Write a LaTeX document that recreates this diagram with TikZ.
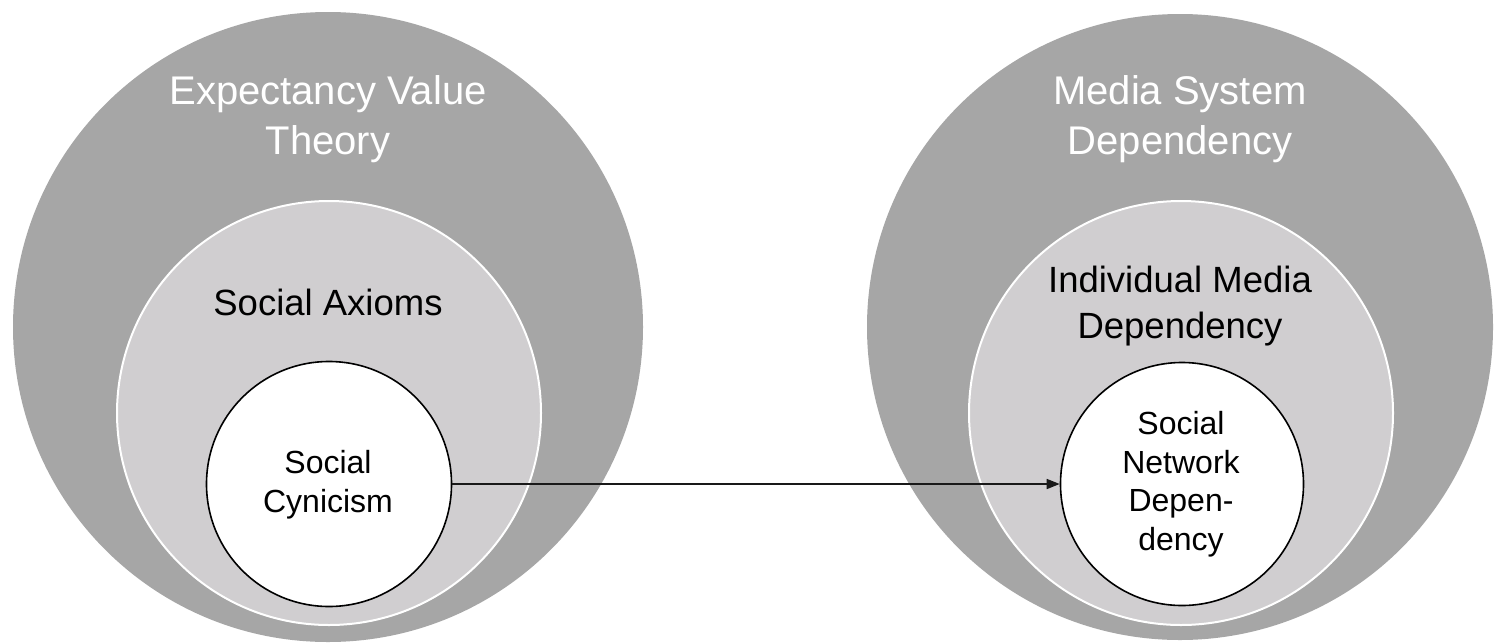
\documentclass[tikz,border=0pt]{standalone}
\usepackage{fontspec}
\setmainfont{Liberation Sans}
\usetikzlibrary{arrows.meta}
\definecolor{outergray}{RGB}{166,166,166}
\definecolor{midgray}{RGB}{208,206,208}
\begin{document}
\begin{tikzpicture}[x=1pt,y=-1pt,
  outerring/.style={circle,fill=outergray,draw=none,minimum size=#1,inner sep=0pt},
  midring/.style={circle,fill=midgray,draw=white,line width=2pt,minimum size=#1,inner sep=0pt},
  corering/.style={circle,fill=white,draw=black,line width=1.6pt,minimum size=#1,inner sep=0pt},
  titletext/.style={text=white,align=center,inner sep=0pt,font=\fontsize{40}{50}\selectfont},
  midtext/.style={text=black,align=center,inner sep=0pt,font=\fontsize{36.5}{46}\selectfont},
  coretext/.style={text=black,align=center,inner sep=0pt,font=\fontsize{32}{38.5}\selectfont},
  link/.style={draw=black!90,line width=1.6pt,-{Triangle[length=13pt,width=10pt]}}]
\useasboundingbox (0,0) rectangle (1501,643);
\fill[white] (0,0) rectangle (1501,643);

% left group: theory, axioms, cynicism
\node[outerring=630pt] (evt) at (328,327) {};
\node[midring=424pt] (sa) at (329,413) {};
\node[corering=245pt] (sc) at (329,484) {};
% base anchor of a multi-line label sits on its last line
\node[titletext,anchor=base] (evtlabel) at (328,154) {Expectancy Value\\Theory};
\node[midtext,anchor=base] (salabel) at (328,315) {Social Axioms};
\node[coretext,anchor=base] (sclabel) at (328,512) {Social\\Cynicism};

% right group: media system, individual media, social network
\node[outerring=626pt] (msd) at (1180,327) {};
\node[midring=424pt] (imd) at (1181,413) {};
\node[corering=243pt] (snd) at (1182,484) {};
\node[titletext,anchor=base] (msdlabel) at (1180,154) {Media System\\Dependency};
\node[midtext,anchor=base] (imdlabel) at (1180,338) {Individual Media\\Dependency};
\node[coretext,anchor=base] (sndlabel) at (1181,550) {Social\\Network\\Depen-\\dency};

% connector
\draw[link] (sc.east) -- (snd.west);
\end{tikzpicture}
\end{document}
